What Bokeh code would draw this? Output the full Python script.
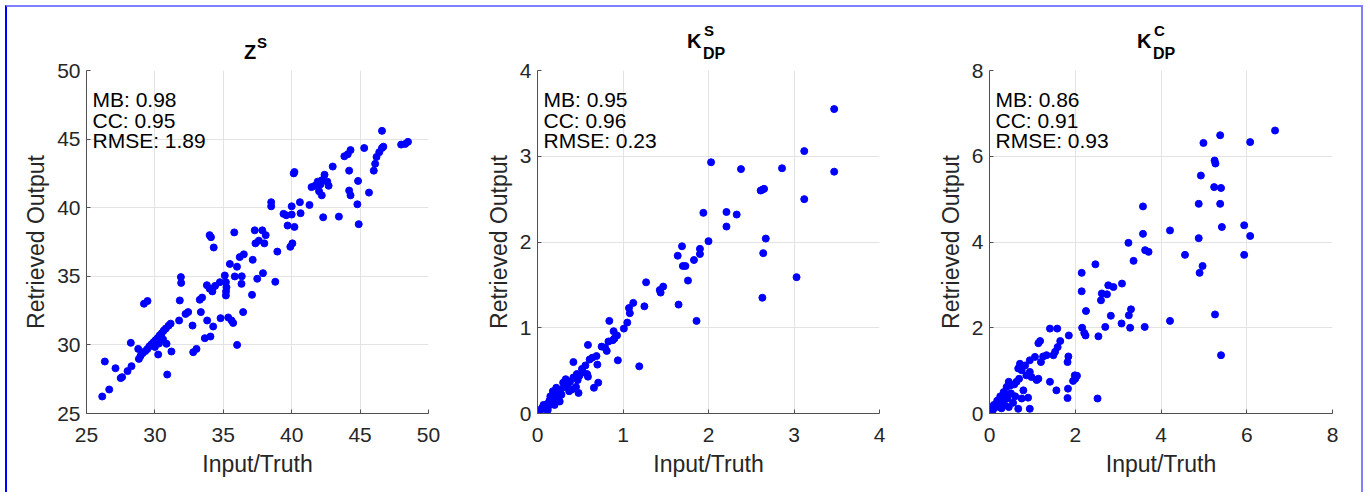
from bokeh.plotting import figure
from bokeh.layouts import row, column
from bokeh.models import Label, Range1d, FixedTicker, Div
from bokeh.embed import file_html
from bokeh.resources import INLINE

FONT = "Liberation Sans"

# ---------------- data ----------------
zs_truth = [26.15, 26.34, 26.66, 27.12, 27.5, 27.6, 28.0, 28.29, 28.24, 28.78, 28.83, 28.95, 29.1, 29.3,
            29.45, 29.6, 29.75, 29.9, 30.05, 30.2, 30.35, 30.5, 30.65, 30.8, 31.0, 31.15, 30.3, 30.6,
            30.0, 29.2, 29.46, 30.24, 30.85, 30.9, 31.21, 31.77, 31.82, 31.9, 31.92, 32.24, 32.43, 32.75,
            32.8, 33.04, 33.28, 33.45, 33.36, 33.65, 33.82, 34.26, 34.06, 33.8, 34.0, 34.2, 34.4, 34.0,
            34.1, 34.3, 34.75, 34.8, 35.11, 35.19, 35.23, 35.19, 35.2, 35.36, 35.6, 35.72, 35.48, 35.8,
            35.84, 36.0, 36.2, 36.33, 36.45, 36.01, 36.5, 36.35, 37.1, 37.15, 37.3, 37.35, 37.48, 37.6,
            37.85, 38.0, 38.1, 37.9, 38.5, 38.5, 38.8, 38.95, 39.4, 39.6, 39.7, 39.9, 40.05, 40.0, 40.2,
            40.15, 40.2, 40.0, 40.6, 40.65, 41.3, 41.45, 41.7, 41.9, 42.1, 42.0, 42.2, 42.4, 42.2, 42.6,
            42.7, 42.3, 43.0, 43.45, 43.85, 44.1, 44.3, 44.2, 44.2, 44.3, 44.85, 44.8, 44.9, 45.3, 45.65,
            46.0, 46.1, 46.2, 46.4, 46.6, 46.6, 46.7, 48.0, 48.3, 48.5]
zs_retr = [26.24, 28.79, 26.75, 28.3, 27.58, 27.65, 28.09, 28.45, 30.15, 29.71, 28.98, 29.2, 29.4, 29.55,
           29.7, 29.9, 30.05, 30.2, 30.35, 30.5, 30.7, 30.85, 31.05, 31.2, 31.4, 31.55, 30.1, 30.4,
           29.85, 33.0, 33.2, 29.3, 30.08, 27.84, 29.52, 31.78, 33.24, 34.94, 34.52, 32.26, 32.39, 31.41,
           29.47, 29.71, 33.29, 33.45, 32.39, 30.49, 31.78, 31.34, 30.61, 34.35, 34.1, 33.9, 34.3, 38.0,
           37.85, 37.1, 34.57, 31.95, 35.06, 34.57, 34.2, 33.6, 33.9, 32.0, 31.78, 31.6, 35.9, 38.2,
           34.99, 35.7, 36.4, 34.45, 32.39, 30.0, 36.6, 35.0, 33.65, 36.2, 38.35, 37.4, 34.82, 37.6,
           38.35, 37.4, 38.0, 35.23, 40.4, 40.1, 34.6, 36.8, 39.55, 39.45, 38.7, 37.15, 37.4, 40.1, 42.6,
           42.5, 38.6, 39.5, 40.4, 39.6, 40.2, 41.5, 41.6, 41.9, 41.7, 41.2, 40.9, 42.4, 42.0, 41.9,
           41.6, 39.3, 43.0, 39.35, 43.75, 43.9, 44.2, 42.7, 41.25, 40.9, 41.95, 40.25, 38.8, 44.35, 41.1,
           42.7, 43.2, 43.7, 44.05, 44.35, 45.6, 44.45, 44.6, 44.65, 44.8]

ks_truth = [3.47, 3.12, 3.47, 3.12, 3.03, 2.86, 2.61, 2.63, 2.65, 2.67, 2.64, 2.63, 2.38, 2.33, 2.21, 2.21,
            2.03, 2.00, 1.94, 1.90, 1.90, 1.83, 1.86, 1.76, 1.69, 1.70, 1.73, 1.64, 1.65, 1.47, 1.43, 1.44,
            1.27, 1.25, 1.12, 1.07, 1.08, 1.19, 1.05, 0.94, 0.84, 1.01, 0.93, 0.90, 0.88, 0.89, 0.83, 0.79,
            0.81, 0.75, 0.69, 0.64, 0.70, 0.59, 0.42, 0.56, 0.58, 0.59, 0.71, 0.66, 0.53, 0.49, 0.45, 0.48,
            0.47, 0.38, 0.35, 0.31, 0.27, 0.24, 0.21, 0.18, 0.14, 0.11, 0.08, 0.05, 0.07, 0.10, 0.13, 0.16,
            0.20, 0.25, 0.28, 0.33, 0.30, 0.22, 0.18, 0.15, 0.37, 0.40, 0.26, 0.20, 0.03, 0.12, 0.42, 0.46,
            0.52, 0.61]
ks_retr = [3.55, 3.06, 2.82, 2.50, 1.59, 2.86, 2.60, 2.61, 2.62, 2.04, 1.87, 1.35, 2.85, 2.32, 2.35, 2.18,
           2.93, 2.01, 2.34, 1.92, 1.86, 1.79, 1.08, 1.55, 1.95, 1.72, 1.72, 1.84, 1.27, 1.48, 1.44, 1.41,
           1.53, 1.25, 1.29, 1.23, 1.17, 0.55, 1.06, 0.62, 1.08, 0.99, 0.91, 0.875, 0.855, 0.96, 0.84, 0.77,
           0.73, 0.78, 0.67, 0.65, 0.57, 0.80, 0.60, 0.56, 0.46, 0.43, 0.36, 0.30, 0.48, 0.44, 0.31, 0.24,
           0.39, 0.37, 0.33, 0.31, 0.27, 0.24, 0.21, 0.18, 0.15, 0.11, 0.08, 0.06, 0.10, 0.05, 0.09, 0.12,
           0.16, 0.19, 0.22, 0.40, 0.36, 0.30, 0.26, 0.20, 0.26, 0.28, 0.14, 0.10, 0.03, 0.04, 0.42, 0.46,
           0.52, 0.63]

kc_truth = [6.66, 6.08, 5.38, 4.99, 5.25, 5.27, 4.93, 5.24, 5.40, 4.88, 5.38, 5.42, 5.94, 6.08, 5.94, 4.88,
            4.56, 4.97, 4.90, 5.26, 5.40, 4.21, 4.21, 3.58, 3.58, 3.63, 3.71, 3.36, 3.24, 3.30, 3.25, 3.28,
            3.62, 3.09, 3.08, 2.89, 2.77, 2.83, 2.74, 2.62, 2.60, 2.70, 2.47, 2.54, 2.52, 2.15, 2.15, 2.25,
            2.16, 2.21, 2.24, 1.99, 2.00, 1.95, 2.04, 1.85, 1.84, 1.82, 1.83, 1.82, 1.41, 1.58, 1.14, 1.18,
            1.59, 1.53, 1.49, 1.25, 1.33, 1.06, 1.20, 0.94, 0.71, 0.75, 0.83, 0.67, 1.41, 1.14, 1.56, 0.94,
            0.86, 0.98, 0.75, 1.10, 0.69, 0.63, 0.58, 0.45, 0.50, 0.79, 0.75, 0.90, 0.94, 0.67, 0.40, 0.33,
            0.25, 0.18, 0.10, 0.05, 0.50, 0.42, 0.30, 0.22, 0.15, 0.08, 0.35, 0.55, 0.45, 0.28, 0.60, 0.38,
            1.65]
kc_retr = [6.60, 6.33, 6.49, 6.31, 5.90, 5.83, 5.55, 5.28, 5.26, 4.89, 4.89, 4.35, 4.39, 4.14, 3.70, 4.09,
           3.70, 3.44, 3.28, 2.31, 1.36, 4.27, 2.16, 4.83, 4.19, 3.81, 3.77, 3.56, 3.98, 2.43, 2.29, 2.00,
           2.02, 3.03, 2.10, 2.95, 2.99, 2.28, 2.78, 2.80, 2.64, 2.02, 3.48, 1.80, 0.35, 3.28, 2.85, 2.39,
           2.00, 1.88, 1.82, 0.89, 0.81, 0.76, 0.88, 1.82, 1.33, 1.20, 0.58, 0.36, 1.98, 1.98, 1.64, 1.69,
           1.55, 1.44, 1.36, 1.33, 1.36, 1.32, 1.20, 1.24, 1.16, 1.12, 1.12, 1.05, 0.74, 0.81, 0.54, 0.97,
           0.89, 0.85, 1.01, 0.78, 0.81, 0.74, 0.68, 0.74, 0.66, 0.54, 0.35, 0.37, 0.11, 0.11, 0.62, 0.50,
           0.40, 0.30, 0.20, 0.12, 0.47, 0.35, 0.28, 0.22, 0.15, 0.08, 0.20, 0.25, 0.15, 0.12, 0.40, 0.45,
           1.69]

z_ticks = [25, 30, 35, 40, 45, 50]
ks_ticks = [0, 1, 2, 3, 4]
kc_ticks = [0, 2, 4, 6, 8]

titles = [("Z", "S", None), ("K", "S", "DP"), ("K", "C", "DP")]
stats = [["MB: 0.98", "CC: 0.95", "RMSE: 1.89"],
         ["MB: 0.95", "CC: 0.96", "RMSE: 0.23"],
         ["MB: 0.86", "CC: 0.91", "RMSE: 0.93"]]
x_label = "Input/Truth"
y_label = "Retrieved Output"

DIV_H = 52
FIG_H = 433
FRAME_H = 343
TOP = 11


def span(txt, left, top, size):
    return ('<span style="position:absolute;left:%dpx;top:%dpx;font-family:\'Liberation Sans\',Arial,sans-serif;'
            'font-weight:bold;font-size:%dpx;line-height:1;color:black;white-space:nowrap">%s</span>'
            % (left, top, size, txt))


def title_div(width, title):
    main, sup, sub = title
    if sub is None:
        inner = span(main, 237, 35, 20) + span(sup, 250, 28, 15)
    else:
        inner = span(main, 230, 24, 20) + span(sub, 246, 39, 16) + span(sup, 247, 16, 15)
    html = '<div style="position:relative;width:%dpx;height:%dpx;margin:0;padding:0">%s</div>' % (width, DIV_H, inner)
    return Div(text=html, width=width, height=DIV_H, margin=0, styles={"padding": "0", "margin": "0"})


def panel(xs, ys, ticks, width, bl, fw, stat):
    p = figure(width=width, height=FIG_H, output_backend="svg", toolbar_location=None,
               x_range=Range1d(ticks[0], ticks[-1]), y_range=Range1d(ticks[0], ticks[-1]),
               min_border_left=bl, min_border_right=width - bl - fw,
               min_border_top=TOP, min_border_bottom=FIG_H - TOP - FRAME_H)
    p.outline_line_color = None
    p.background_fill_color = "white"
    p.border_fill_color = "white"
    for ax in (p.xaxis[0], p.yaxis[0]):
        ax.ticker = FixedTicker(ticks=ticks)
        ax.major_label_text_font = FONT
        ax.major_label_text_font_size = "21px"
        ax.major_label_text_color = "#262626"
        ax.axis_label_text_font = FONT
        ax.axis_label_text_font_size = "23px"
        ax.axis_label_text_font_style = "normal"
        ax.axis_label_text_color = "#262626"
        ax.axis_line_color = "#505050"
        ax.major_tick_line_color = "#505050"
        ax.major_tick_in = 4
        ax.major_tick_out = 0
        ax.minor_tick_line_color = None
    p.xaxis.axis_label = x_label
    p.yaxis.axis_label = y_label
    p.xaxis.major_label_standoff = 14
    p.xaxis.axis_label_standoff = 6
    p.yaxis.major_label_standoff = 6
    p.yaxis.axis_label_standoff = 5
    p.grid.grid_line_color = "#e3e3e3"
    p.grid.grid_line_width = 1

    p.scatter(xs, ys, size=7, color="#0000ff", line_color="#0000ff")

    for i, s in enumerate(stat):
        p.add_layout(Label(x=6, y=314 - i * 20.5, x_units="screen", y_units="screen", text=s,
                           text_font=FONT, text_font_size="21px", text_color="black",
                           text_baseline="alphabetic", text_align="left"))
    return p


p1 = panel(zs_truth, zs_retr, z_ticks, 450, 79, 342, stats[0])
p2 = panel(ks_truth, ks_retr, ks_ticks, 450, 80, 342, stats[1])
p3 = panel(kc_truth, kc_retr, kc_ticks, 454, 82, 343, stats[2])

c1 = column(title_div(450, titles[0]), p1, spacing=0)
c2 = column(title_div(450, titles[1]), p2, spacing=0)
c3 = column(title_div(454, titles[2]), p3, spacing=0)

layout = row(c1, c2, c3, spacing=0,
             styles={"border-top": "2px solid #8080ff",
                     "border-left": "2px solid #0000ff",
                     "border-right": "2px solid #8080ff",
                     "margin": "5px 0 0 5px"})

open("out.html", "w").write(file_html(layout, INLINE))
